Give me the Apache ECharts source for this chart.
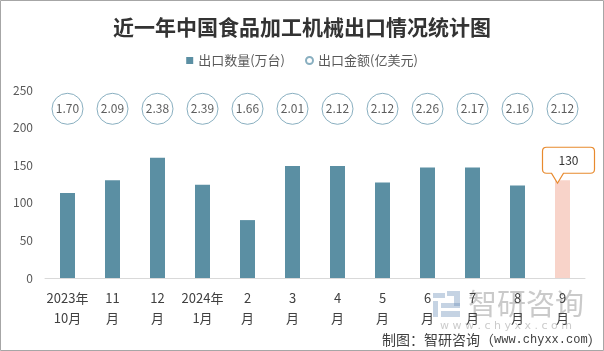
<!DOCTYPE html>
<html>
<head>
<meta charset="utf-8">
<script src="https://cdn.jsdelivr.net/npm/echarts@6/dist/echarts.min.js"></script>
<style>
  html, body { margin: 0; padding: 0; background: #fff; }
  #chart { width: 604px; height: 351px; }
</style>
</head>
<body>
<div id="chart"></div>
<script>
// months shown on the x axis
const months = ["2023年\n10月", "11\n月", "12\n月", "2024年\n1月", "2\n月", "3\n月",
    "4\n月", "5\n月", "6\n月", "7\n月", "8\n月", "9\n月"];
// export quantity, 10k units
const quantity = [113, 130, 160, 124, 77, 149, 149, 127, 147, 147, 123, 130];
// export value, 100M USD
const amount = [1.70, 2.09, 2.38, 2.39, 1.66, 2.01, 2.12, 2.12, 2.26, 2.17, 2.16, 2.12];
const yTicks = [0, 50, 100, 150, 200, 250];

const barColor = "#5b8fa3";
const lastColor = "#f8d3c9";
const bubbleRow = 225; // where the value bubbles sit on the y scale

var myChart = echarts.init(document.getElementById("chart"));

var barData = quantity.map((v, i) => ({
    value: v,
    itemStyle: { color: i === quantity.length - 1 ? lastColor : barColor },
}));
var bubbleData = amount.map((v, i) => ({ value: [i, bubbleRow], amount: v }));
var last = quantity.length - 1;
var wmColor = "rgba(150,150,150,0.5)";
var logoColor = "rgba(110,145,185,0.4)";

var option = {
    animation: false,
    title: {
        text: "近一年中国食品加工机械出口情况统计图",
        left: "center",
        top: 12,
        textStyle: {
            fontFamily: "Noto Sans CJK SC",
            fontSize: 21,
            fontWeight: "bold",
            color: "#333",
        },
    },
    legend: {
        top: 49,
        left: "center",
        itemWidth: 7,
        itemHeight: 7,
        itemGap: 20,
        textStyle: { fontFamily: "Noto Sans CJK SC", fontSize: 13, color: "#595959" },
        data: [
            { name: "出口数量(万台)", icon: "rect" },
            { name: "出口金额(亿美元)", icon: "circle" },
        ],
    },
    grid: { left: 45, right: 19, top: 90, bottom: 73 },
    xAxis: {
        type: "category",
        data: months,
        axisLine: { lineStyle: { color: "#d9d9d9" } },
        axisTick: { show: false },
        axisLabel: {
            interval: 0,
            margin: 10,
            fontFamily: "Noto Sans CJK SC",
            fontSize: 13,
            lineHeight: 20,
            color: "#404040",
        },
    },
    yAxis: {
        type: "value",
        min: yTicks[0],
        max: yTicks[yTicks.length - 1],
        interval: 50,
        splitLine: { show: false },
        axisLine: { show: false },
        axisTick: { show: false },
        axisLabel: {
            margin: 12,
            fontFamily: "Noto Sans CJK SC",
            fontSize: 12,
            color: "#595959",
        },
    },
    series: [
        {
            name: "出口数量(万台)",
            type: "bar",
            barWidth: 15,
            itemStyle: { color: barColor },
            data: barData,
            markPoint: {
                symbol: "path://M4 0H48Q52 0 52 4V22Q52 26 48 26H21L15 36L9 26H4Q0 26 0 22V4Q0 0 4 0Z",
                symbolSize: [52, 36],
                symbolKeepAspect: false,
                symbolOffset: [6, -15],
                itemStyle: { color: "#fff", borderColor: "#e88a2e", borderWidth: 1 },
                label: {
                    show: true,
                    offset: [0, -5],
                    fontFamily: "Noto Sans CJK SC",
                    fontSize: 12,
                    color: "#333",
                    formatter: () => String(quantity[last]),
                },
                data: [{ coord: [last, quantity[last]] }],
            },
        },
        {
            name: "出口金额(亿美元)",
            type: "scatter",
            symbol: "circle",
            symbolSize: 31,
            itemStyle: { color: "#fff", borderColor: "#6b9bb0", borderWidth: 1 },
            label: {
                show: true,
                position: "inside",
                fontFamily: "Noto Sans CJK SC",
                fontSize: 12,
                color: "#333",
                formatter: (p) => p.data.amount.toFixed(2),
            },
            data: bubbleData,
        },
    ],
    graphic: [
        {
            type: "rect",
            silent: true,
            shape: { x: 0.5, y: 0.5, width: 603, height: 350 },
            style: { fill: "none", stroke: "#a6a6a6", lineWidth: 1 },
        },
        // watermark logo + name
        {
            type: "group",
            left: 433,
            top: 289,
            z: 100,
            silent: true,
            children: [
                { type: "rect", shape: { x: 0, y: 2, width: 12, height: 5 }, style: { fill: logoColor } },
                { type: "rect", shape: { x: 0, y: 10, width: 5, height: 16 }, style: { fill: logoColor } },
                { type: "rect", shape: { x: 14, y: 0, width: 13, height: 5 }, style: { fill: logoColor } },
                { type: "rect", shape: { x: 21, y: 5, width: 6, height: 10 }, style: { fill: logoColor } },
                { type: "rect", shape: { x: 8, y: 12, width: 19, height: 5 }, style: { fill: logoColor } },
                { type: "rect", shape: { x: 8, y: 20, width: 19, height: 6 }, style: { fill: logoColor } },
                {
                    type: "text",
                    x: 35,
                    y: -2,
                    style: {
                        text: "智研咨询",
                        font: "29px 'Noto Sans CJK SC'",
                        fill: wmColor,
                    },
                },
                {
                    type: "text",
                    x: 7,
                    y: 30,
                    style: {
                        text: "w w w . c h y x x . c o m",
                        font: "11px 'DejaVu Sans'",
                        fill: "rgba(160,160,160,0.55)",
                    },
                },
            ],
        },
        {
            type: "text",
            left: 382,
            top: 333,
            style: {
                text: "{a|制图：智研咨询（}{b|www.chyxx.com}{a|）}",
                rich: {
                    a: { fontFamily: "Noto Sans CJK SC", fontSize: 14, fill: "#404040", color: "#404040" },
                    b: { fontFamily: "Liberation Mono", fontSize: 12, fill: "#404040", color: "#404040" },
                },
            },
        },
    ],
};
myChart.setOption(option);
</script>
</body>
</html>
